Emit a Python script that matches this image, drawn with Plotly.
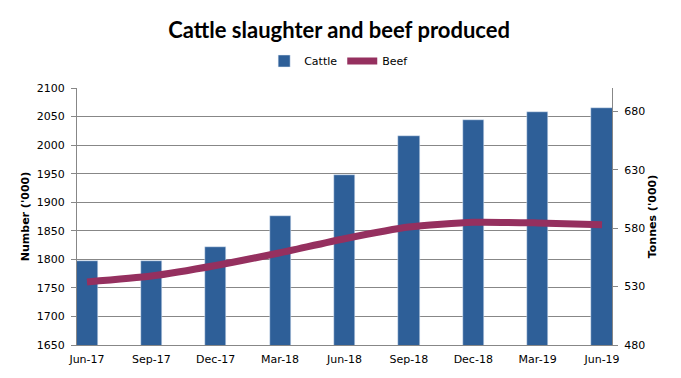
import plotly.graph_objects as go

categories = ["Jun-17", "Sep-17", "Dec-17", "Mar-18", "Jun-18", "Sep-18", "Dec-18", "Mar-19", "Jun-19"]
cattle = [1797, 1797, 1822, 1876, 1948, 2016, 2044, 2058, 2065]
beef = [534, 539, 548, 559, 571, 581, 585, 584.5, 583]

bar_color = "#2E5F98"
line_color = "#95305F"
grid_color = "#878787"
font_family = "Tahoma, 'DejaVu Sans', sans-serif"

fig = go.Figure()
fig.add_trace(go.Bar(x=categories, y=cattle, name="Cattle", marker_color=bar_color,
                     width=0.33, yaxis="y"))
fig.add_trace(go.Scatter(x=categories, y=beef, name="Beef", mode="lines",
                         line=dict(color=line_color, width=7, shape="spline", smoothing=0.6),
                         yaxis="y2"))

# page body has an 8px default margin, so the figure is sized to fit the window
fig.update_layout(
    width=673, height=370,
    margin=dict(l=69, r=69, t=80, b=33, autoexpand=False),
    paper_bgcolor="white", plot_bgcolor="white",
    font=dict(family=font_family, size=11, color="#000000"),
    title=dict(text="<b>Cattle slaughter and beef produced</b>", x=0.492, xanchor="center",
               y=0.94, yanchor="middle",
               font=dict(family="Lato, 'Open Sans', sans-serif", size=22, color="#000000")),
    legend=dict(orientation="h", x=0.49, xanchor="center", y=1.105, yanchor="middle",
                font=dict(family=font_family, size=11), traceorder="normal",
                itemwidth=30),
    showlegend=True,
    bargap=0,
    xaxis=dict(type="category", range=[-0.155, 8.155], showgrid=False, showline=True,
               linecolor=grid_color, linewidth=1, ticks="", tickfont=dict(size=11),
               ticklabelstandoff=4, automargin=False),
    yaxis=dict(title=dict(text="<b>Number ('000)</b>", font=dict(size=11), standoff=4),
               range=[1650, 2100], dtick=50, showgrid=True, gridcolor=grid_color,
               gridwidth=1, showline=True, linecolor=grid_color, ticks="outside",
               ticklen=5, tickcolor=grid_color, zeroline=False, ticklabelstandoff=4,
               automargin=False),
    yaxis2=dict(title=dict(text="<b>Tonnes ('000)</b>", font=dict(size=11), standoff=4),
                range=[480, 700], tickvals=[480, 530, 580, 630, 680], overlaying="y",
                side="right", showgrid=False, showline=True, linecolor=grid_color,
                ticks="outside", ticklen=5, tickcolor=grid_color, zeroline=False,
                ticklabelstandoff=4, automargin=False),
)

fig.write_html("out.html")
